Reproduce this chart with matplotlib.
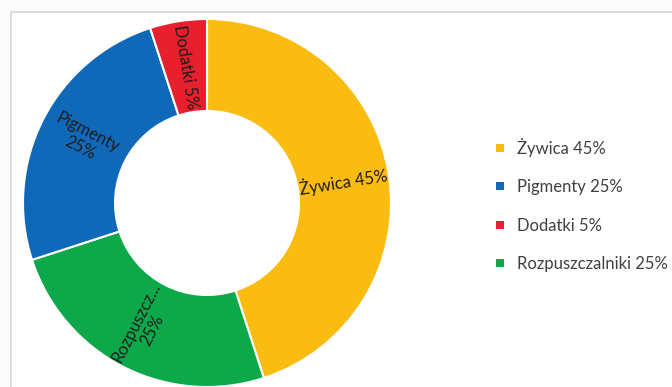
import numpy as np
import matplotlib.pyplot as plt
from matplotlib.patches import Rectangle
from matplotlib.lines import Line2D

# slices, clockwise from the top
names = ['Żywica', 'Rozpuszczalniki', 'Pigmenty', 'Dodatki']
shares = [45, 25, 25, 5]
slice_labels = ['Żywica 45%', 'Rozpuszcz...\n25%', 'Pigmenty\n25%', 'Dodatki 5%']
colors = ['#FBBC12', '#0DA84A', '#1068B9', '#E8202E']

# legend order
legend_names = ['Żywica', 'Pigmenty', 'Dodatki', 'Rozpuszczalniki']

plt.rcParams['font.family'] = ['Lato', 'DejaVu Sans']

W, H = 672, 387
fig = plt.figure(figsize=(W / 100, H / 100), dpi=100)
fig.patch.set_facecolor('#FBFBFB')

# chart area frame
fig.patches.append(Rectangle((11 / W, -0.01), 1.0, 1 - 12 / H + 0.01,
                             transform=fig.transFigure, facecolor='white',
                             edgecolor='#D6D6D6', linewidth=1.2, zorder=-5))

cx, cy, r = 207, 203, 184
ax = fig.add_axes([(cx - r) / W, (H - cy - r) / H, 2 * r / W, 2 * r / H])
ax.set_zorder(2)
ax.patch.set_visible(False)
wedges, _ = ax.pie(shares, colors=colors, startangle=90, counterclock=False,
                   radius=1.0,
                   wedgeprops=dict(width=0.5, edgecolor='white', linewidth=1.5))
ax.set_xlim(-1, 1)
ax.set_ylim(-1, 1)
ax.set_aspect('equal')
ax.axis('off')
for w in wedges:
    w.set_clip_on(False)

# radial labels in the middle of the ring
for w, lab in zip(wedges, slice_labels):
    mid = (w.theta1 + w.theta2) / 2
    rad = np.deg2rad(mid)
    x, y = 0.75 * np.cos(rad), 0.75 * np.sin(rad)
    rot = mid if np.cos(rad) >= 0 else mid - 180
    if rot > 180:
        rot -= 360
    ax.text(x, y, lab, rotation=rot, rotation_mode='anchor',
            ha='center', va='center', fontsize=12, color='#1E1E1E',
            linespacing=1.15)

# legend
handles = [Line2D([], [], marker='s', linestyle='none', markersize=6,
                  markerfacecolor=colors[names.index(n)], markeredgewidth=0)
           for n in legend_names]
labels = [f'{n} {shares[names.index(n)]}%' for n in legend_names]
fig.legend(handles, labels, loc='upper left', bbox_to_anchor=(485 / W, 1 - 131 / H),
           frameon=False, fontsize=12, labelcolor='#404040', handletextpad=0.5,
           labelspacing=1.35, borderaxespad=0, handlelength=1.0)

fig.savefig('out.png', dpi=100, facecolor=fig.get_facecolor())
